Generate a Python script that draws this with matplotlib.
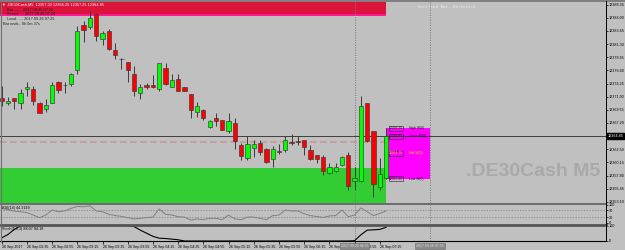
import matplotlib
matplotlib.use("Agg")
import matplotlib.pyplot as plt
from matplotlib.patches import Rectangle
from matplotlib.lines import Line2D
import numpy as np

plt.rcParams['font.family'] = ['Liberation Sans', 'DejaVu Sans']

# .DE30Cash M5, 26 Sep 2017 02:15 .. 07:20 (one bar per 5 min)
opens = [12371.7, 12370.8, 12371.6, 12370.8, 12373.3, 12373.3, 12370.8, 12369.7, 12370.8, 12374.6,
         12373.95, 12374.2, 12376.7, 12384.7, 12384.3, 12386.7, 12382.2, 12383.7, 12380.2, 12378.7,
         12378.1, 12376.0, 12372.6, 12374.05, 12374.0, 12373.3, 12377.1, 12373.7, 12375.1, 12373.7,
         12372.3, 12369.1, 12369.6, 12366.5, 12368.1, 12367.8, 12365.7, 12367.2, 12363.3, 12360.9,
         12362.7, 12363.7, 12362.5, 12360.7, 12362.15, 12362.4, 12363.75, 12363.9, 12364.2, 12362.4,
         12361.4, 12361.1, 12358.2, 12358.6, 12359.7, 12361.5, 12356.9, 12356.9, 12370.8, 12365.7,
         12355.7, 12357.30]
highs = [12373.8, 12371.9, 12371.6, 12373.3, 12374.6, 12373.8, 12370.9, 12371.5, 12374.6, 12374.7,
         12374.5, 12376.2, 12384.5, 12385.5, 12387.3, 12386.9, 12383.7, 12384.0, 12381.5, 12378.8,
         12378.1, 12377.4, 12374.1, 12374.3, 12375.7, 12378.0, 12377.9, 12375.9, 12375.9, 12373.7,
         12372.3, 12370.9, 12369.7, 12367.7, 12368.9, 12367.8, 12368.9, 12368.1, 12363.6, 12364.8,
         12364.1, 12364.1, 12362.7, 12363.0, 12363.5, 12364.9, 12365.3, 12364.9, 12364.2, 12363.3,
         12361.4, 12361.5, 12360.0, 12360.0, 12361.3, 12362.1, 12359.4, 12372.0, 12370.8, 12365.7,
         12360.9, 12366.25]
lows = [12370.3, 12370.5, 12369.7, 12369.7, 12372.1, 12370.5, 12368.9, 12369.1, 12370.7, 12372.5,
        12372.5, 12373.8, 12375.9, 12381.7, 12384.0, 12381.9, 12381.1, 12380.2, 12378.6, 12376.8,
        12374.5, 12372.1, 12371.5, 12373.3, 12373.5, 12372.9, 12373.9, 12373.6, 12372.9, 12372.9,
        12368.1, 12368.2, 12367.8, 12366.3, 12366.7, 12365.9, 12365.4, 12362.5, 12360.6, 12360.6,
        12361.2, 12361.5, 12360.0, 12359.4, 12361.7, 12362.1, 12363.3, 12363.3, 12361.5, 12360.6,
        12360.0, 12357.9, 12358.1, 12358.5, 12359.5, 12355.2, 12355.2, 12356.7, 12363.8, 12353.9,
        12355.2, 12357.25]
closes = [12371.1, 12371.2, 12371.1, 12372.6, 12373.7, 12371.1, 12369.0, 12370.5, 12373.9, 12373.1,
          12373.9, 12376.0, 12383.6, 12383.9, 12386.0, 12382.7, 12383.3, 12380.4, 12379.4, 12378.6,
          12376.7, 12372.9, 12373.7, 12373.6, 12373.6, 12377.9, 12374.1, 12374.8, 12373.0, 12373.0,
          12369.6, 12370.3, 12368.1, 12367.5, 12367.5, 12366.0, 12367.5, 12363.9, 12361.3, 12363.4,
          12363.4, 12362.1, 12360.3, 12362.5, 12362.1, 12364.2, 12363.7, 12363.85, 12362.9, 12360.7,
          12360.7, 12358.6, 12359.3, 12359.3, 12361.1, 12355.9, 12357.3, 12370.3, 12364.0, 12356.3,
          12358.0, 12364.85]

rsi = [78, 72, 64, 61, 56, 43, 29, 43, 70, 61,
       65, 79, 90, 88, 93, 65, 61, 47, 40, 36,
       29, 22, 25, 29, 32, 76, 47, 43, 34, 32,
       16, 22, 18, 25, 25, 18, 43, 22, 18, 32,
       32, 25, 18, 40, 43, 70, 65, 65, 50, 40,
       35, 30, 38, 40, 70, 34, 43, 82, 61, 40,
       52, 65]
stoch = [20, 42, 75, 98, 100, 100, 100, 100, 100, 100,
         100, 100, 100, 100, 100, 100, 100, 100, 100, 100,
         100, 93, 70, 50, 30, 18, 16, 12, 8, 0,
         0, 0, 0, 0, 0, 0, 0, 0, 0, 0,
         0, 0, 0, 0, 0, 0, 0, 0, 0, 0,
         0, 0, 0, 0, 0, 0, 2, 40, 70, 72,
         75, 88]

time_labels = ["26 Sep 2017", "26 Sep 02:35", "26 Sep 02:55", "26 Sep 03:15", "26 Sep 03:35",
               "26 Sep 03:55", "26 Sep 04:15", "26 Sep 04:35", "26 Sep 04:55", "26 Sep 05:15",
               "26 Sep 05:35", "26 Sep 05:55", "26 Sep 06:15", "26 Sep 06:35", "26 Sep 06:55",
               "26 Sep 07:15"]
price_ticks = [12353.10, 12355.45, 12357.80, 12360.15, 12362.50, 12367.20, 12369.55, 12371.90,
               12374.25, 12376.60, 12378.95, 12381.30, 12383.65, 12386.00, 12388.35]

last_price = 12364.85
supply_bottom = 12386.45   # red zone
demand_top = 12359.2       # green zone
dash_level = 12363.8
vline_bars = [56, 68]
vline_texts = ["2017.09.26 06:55", "2017.09.26 07:55"]
box_levels = [12366.25, 12364.85, 12361.75, 12357.25]
box_names = ["High", "Close", "Mid", "Low"]

BG = "#c0c0c0"
W, H = 625, 250


def rect(x0, y0, x1, y1):
    return [x0 / W, 1 - y1 / H, (x1 - x0) / W, (y1 - y0) / H]


fig = plt.figure(figsize=(6.25, 2.5), dpi=100, facecolor=BG)
ax = fig.add_axes(rect(0, 1, 606, 203), facecolor=BG)
ax_rsi = fig.add_axes(rect(0, 204.5, 606, 223), facecolor=BG)
ax_sto = fig.add_axes(rect(0, 225.5, 606, 241), facecolor=BG)

n = len(closes)
idx = np.arange(n)
xmin, xmax = -0.27, 95.9
for a in (ax, ax_rsi, ax_sto):
    a.set_xlim(xmin, xmax)
    for s in a.spines.values():
        s.set_visible(False)
    a.tick_params(axis="x", bottom=False, labelbottom=False)
    a.yaxis.tick_right()
    a.tick_params(axis="y", direction="out", length=1.5, width=0.5, pad=0.6,
                  labelsize=2.7, colors="black")

ax.set_ylim(12352.9, 12389.0)
ax.set_yticks(price_ticks)
ax.set_yticklabels(["%.2f" % p for p in price_ticks])

# zones
ax.add_patch(Rectangle((xmin, demand_top - 20), n - 1 - xmin, 20, color="#32cd32", lw=0, zorder=1))
ax.add_patch(Rectangle((xmin, supply_bottom), n - 1 - xmin, 20, color="#dc143c", lw=0, zorder=1))
ax.hlines(supply_bottom, xmin, n - 1, colors="#ff1493", lw=1.4, zorder=1.5)
ax.add_patch(Rectangle((n - 1, box_levels[3]), vline_bars[1] - (n - 1), box_levels[0] - box_levels[3],
                       color="#ff00ff", lw=0, zorder=1))

ax.hlines(dash_level, xmin, n - 1, colors="#c49a9a", linestyles=(0, (4, 2)), lw=1.2, zorder=1.6)
ax.axhline(last_price, color="#404040", lw=0.7, zorder=1.7)

for a in (ax, ax_rsi, ax_sto):
    for vb in vline_bars:
        a.axvline(vb, color="#7a7a7a", lw=0.6, ls=(0, (1.5, 1.5)), zorder=1.8)

# candles
o = np.array(opens); c = np.array(closes)
hi = np.array(highs); lo = np.array(lows)
ax.vlines(idx, lo, hi, colors="#3a3a3a", lw=0.7, zorder=2)
bull = c >= o
body_lo = np.minimum(o, c)
body_h = np.maximum(np.abs(c - o), 0.08)
ax.bar(idx, body_h, bottom=body_lo, width=0.68,
       color=np.where(bull, "#00ff00", "#ff0000"), edgecolor="#3a3a3a", lw=0.45, zorder=3)

# labels of the magenta box
for lvl, name in zip(box_levels, box_names):
    col = "#ffd700" if name == "Mid" else "#202020"
    ax.text(n - 0.55, lvl, "%.2f" % lvl, fontsize=2.4, color=col, va="center", ha="left",
            zorder=5, bbox=dict(boxstyle="square,pad=0.12", fc="none", ec="#202020", lw=0.4))
    ax.text(n + 2.6, lvl, name + " W(0)", fontsize=2.4, color=col, va="center", ha="left", zorder=5)

# price box on the axis
ax.text(1.003, last_price, "%.2f" % last_price, transform=ax.get_yaxis_transform(),
        fontsize=2.7, color="white", va="center", ha="left", clip_on=False, zorder=6,
        bbox=dict(boxstyle="square,pad=0.2", fc="black", ec="black"))

# RSI
ax_rsi.set_ylim(0, 100)
ax_rsi.plot(idx, rsi, color="#808080", lw=0.7)
for lv in (70, 30):
    ax_rsi.axhline(lv, color="#808080", lw=0.5, ls=(0, (2, 2)))
ax_rsi.set_yticks([100, 70, 30, 0])
ax_rsi.text(0.003, 0.93, "RSI(14) 44.3149", transform=ax_rsi.transAxes, fontsize=2.7,
            va="top", ha="left", color="black")

# Stochastic
ax_sto.set_ylim(0, 100)
ax_sto.plot(idx, stoch, color="black", lw=0.8)
ax_sto.set_yticks([100, 0])
ax_sto.text(0.003, 0.92, "Stoch(5,3,3) 88.07 84.18", transform=ax_sto.transAxes, fontsize=2.7,
            va="top", ha="left", color="black")
ax_sto.tick_params(axis="x", bottom=True, labelbottom=True, length=2, width=0.5, pad=0.8,
                   labelsize=2.6)
ax_sto.set_xticks(range(0, n, 4))
ax_sto.set_xticklabels(time_labels)
for lbl in ax_sto.get_xticklabels():
    lbl.set_ha("left")

# frame lines
def hline_px(y, x0, x1, color, lw):
    fig.add_artist(Line2D([x0 / W, x1 / W], [1 - y / H, 1 - y / H], color=color, lw=lw))

hline_px(0.5, 0, 625, "#7f7f7f", 1.4)
hline_px(203.8, 0, 606, "#555555", 1.1)
hline_px(224.5, 0, 606, "#555555", 2.0)
hline_px(241.3, 0, 606, "black", 0.8)
fig.add_artist(Line2D([606 / W, 606 / W], [1 - 241.3 / H, 1 - 1 / H], color="black", lw=0.7))
fig.add_artist(Line2D([0.6 / W, 0.6 / W], [1 - 241 / H, 1 - 1 / H], color="#707070", lw=0.8))

# header texts
fig.text(2 / W, 1 - 4.5 / H, "\u25bc .DE30Cash,M5  12357.30 12366.25 12357.25 12364.85",
         fontsize=2.8, color="white", va="center", ha="left")
fig.text(7 / W, 1 - 9.6 / H, "Bar........ 2017.09.26 07:25", fontsize=2.8, color="#202020",
         va="center", ha="left")
fig.text(7 / W, 1 - 14.3 / H, "Server..... 2017.09.26 07:24", fontsize=2.8, color="#202020",
         va="center", ha="left")
fig.text(7 / W, 1 - 18.6 / H, "Local...... 2017.09.26 07:25", fontsize=2.8, color="#202020",
         va="center", ha="left")
fig.text(3 / W, 1 - 23.6 / H, "Bar ends.. 0h 0m 37s", fontsize=2.8, color="#202020",
         va="center", ha="left")
fig.text(418 / W, 1 - 6.5 / H, "Verified Bot, Detects=2", fontsize=3.0, color="#ececec",
         va="center", ha="left", family="DejaVu Sans Mono")

fig.text(600 / W, 1 - 176 / H, ".DE30Cash M5", fontsize=14, fontweight="bold", color="#a9a9a9",
         ha="right", va="baseline")

for vb, t in zip(vline_bars, vline_texts):
    xp = ax.transData.transform((vb, 0))[0] / (W * 1.0)
    fig.text(xp - 14 / W, 1 - 246 / H, t, fontsize=2.5, color="#dcdcdc", va="center", ha="left",
             bbox=dict(boxstyle="square,pad=0.2", fc="#8a8a8a", ec="#6a6a6a", lw=0.4))

fig.savefig("out.png", dpi=100, facecolor=BG)
